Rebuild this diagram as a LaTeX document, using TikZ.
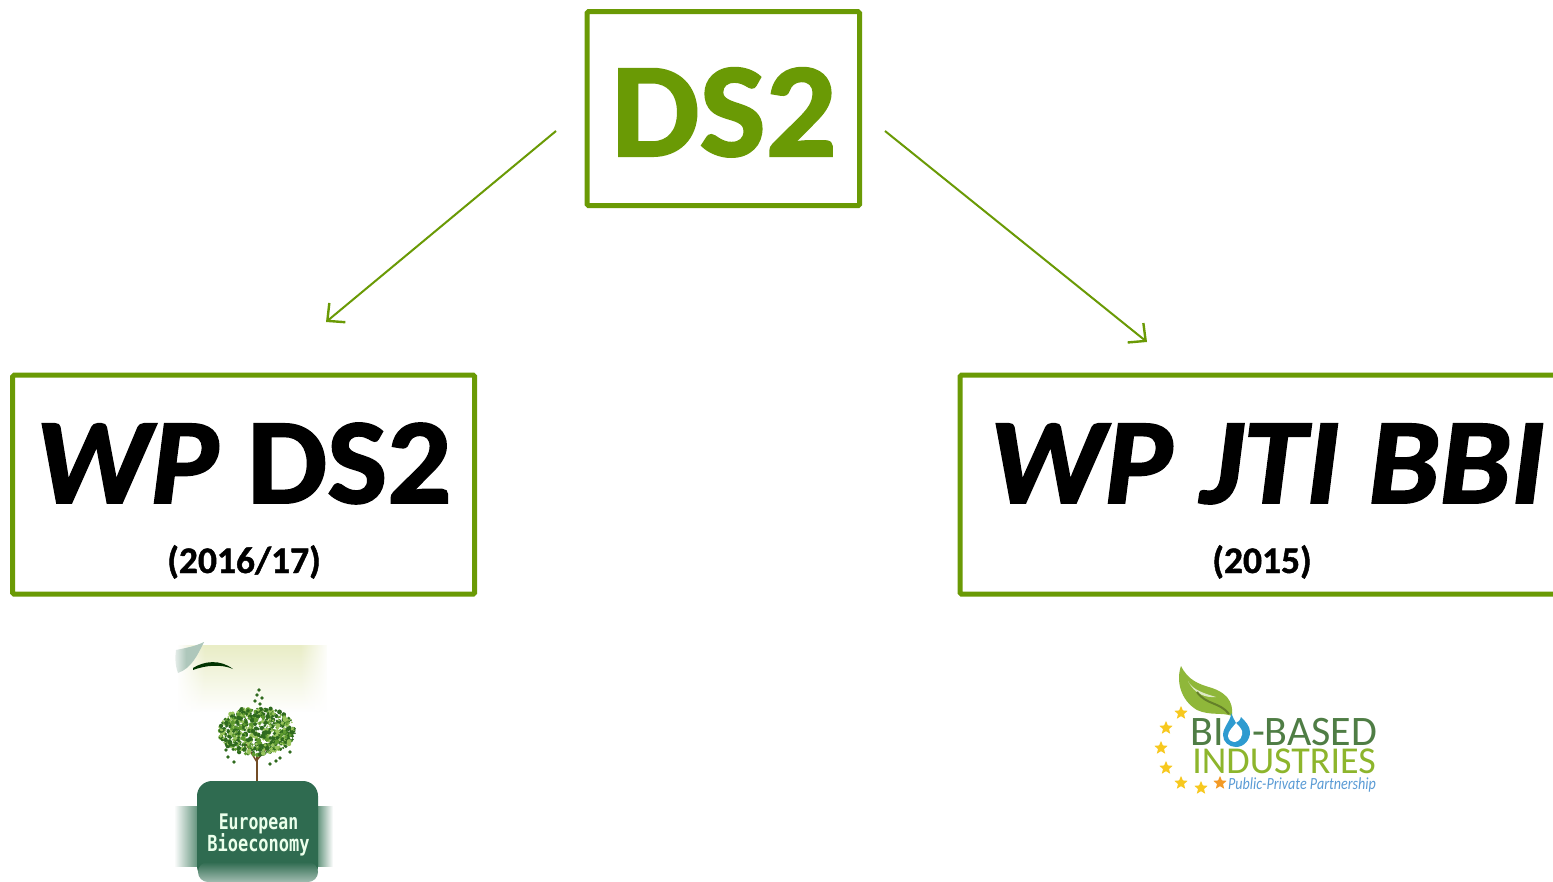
\documentclass[tikz,border=0pt]{standalone}
\usepackage{fontspec}
\setmainfont{Carlito}
\newfontfamily\logomono{DejaVu Sans Mono}
\usetikzlibrary{arrows.meta,shapes.geometric,fadings}
\definecolor{dsgreen}{HTML}{6A9A05}
\definecolor{logodark}{HTML}{2F6B50}
\definecolor{logoband}{HTML}{5E9078}
\definecolor{palebg}{HTML}{E9EDC6}
\definecolor{leafa}{HTML}{2F6A1E}
\definecolor{leafb}{HTML}{5E9A30}
\definecolor{leafc}{HTML}{98C45C}
\definecolor{biodark}{HTML}{4F7D45}
\definecolor{biolight}{HTML}{8DB52C}
\definecolor{bioleaf}{HTML}{8FB73A}
\definecolor{bioblue}{HTML}{2E9BD0}
\definecolor{biotext}{HTML}{5A9BD5}
\definecolor{biostar}{HTML}{F7C81E}
\definecolor{biostarb}{HTML}{F39A26}
\tikzset{
  x=1pt,y=-1pt,
  framebox/.style={draw=dsgreen,line width=5pt,rectangle,inner sep=0pt,rounded corners=1.5pt},
  arrowline/.style={draw=dsgreen,line width=2pt,-{Straight Barb[length=13pt,width=25pt,line width=2.4pt]}},
  title/.style={anchor=base,inner sep=0pt,font=\fontsize{127}{127}\selectfont\bfseries\addfontfeature{FakeBold=1.6}},
  yeartext/.style={anchor=base,inner sep=0pt,font=\fontsize{37.5}{37.5}\selectfont\bfseries\addfontfeature{FakeBold=1.2}},
  logostar/.style={star,star points=5,star point ratio=2.2,fill=#1,inner sep=0pt,minimum size=14pt},
}
\begin{document}
\begin{tikzpicture}
\useasboundingbox (0,0) rectangle (1553,882);
\clip (0,0) rectangle (1553,882);
\fill[white] (0,0) rectangle (1553,882);

% boxes
\node[framebox,minimum width=272.5pt,minimum height=194pt] (top) at (723.3,108.7) {};
\node[framebox,minimum width=462pt,minimum height=219pt] (left) at (243.7,484.7) {};
\node[framebox,minimum width=640pt,minimum height=219pt] (right) at (1280,484.7) {};

% texts
\node[anchor=base,inner sep=0pt,text=dsgreen,font=\fontsize{140}{140}\selectfont\bfseries\addfontfeature{FakeBold=1.6}] (toptext) at (724,156) {\scalebox{1}[0.96]{DS2}};
\node[title] (lefttext) at (243.5,503) {\scalebox{1}[0.96]{\textit{WP} DS2}};
\node[title] (righttext) at (1267,503) {\scalebox{1}[0.96]{\textit{WP JTI BBI}}};
\node[yeartext] (leftyear) at (244,573) {(2016/17)};
\node[yeartext] (rightyear) at (1262,573) {(2015)};

% connectors
\coordinate (la) at (556,131);
\coordinate (lb) at (326,322);
\coordinate (ra) at (885,131);
\coordinate (rb) at (1147,342);
\draw[arrowline] (la) -- (lb);
\draw[arrowline] (ra) -- (rb);

% European Bioeconomy logo
\fill[palebg,path fading=south] (178,645) rectangle (327,712);
\fill[white,path fading=east] (176,643) rectangle (205,714);
\fill[white,path fading=west] (300,643) rectangle (329,714);
\fill[logoband!50!white] (176,650) .. controls (186,648) and (196,646) .. (204,642)
  .. controls (198,654) and (192,668) .. (178,673) .. controls (175,665) and (175,657) .. (176,650) -- cycle;
\fill[white,path fading=east] (170,640) rectangle (186,678);
\fill[black!80!green] (193,668) .. controls (204,661) and (220,659) .. (233,669)
  .. controls (222,664) and (206,665) .. (193,670) -- cycle;
% tree
\draw[brown!60!black,line width=2.5pt] (257,782) -- (257,756);
\draw[brown!60!black,line width=1.5pt] (257,762) -- (246,744) (257,760) -- (270,744);
\pgfmathsetseed{42}
\foreach \i in {1,...,700}{
  \pgfmathsetmacro{\ang}{rnd*360}
  \pgfmathsetmacro{\rad}{rnd^0.45}
  \pgfmathsetmacro{\px}{257+38*\rad*cos(\ang)}
  \pgfmathsetmacro{\py}{731+24*\rad*sin(\ang)}
  \pgfmathsetmacro{\sz}{0.9+rnd*1.5}
  \pgfmathtruncatemacro{\pick}{int(rnd*4)}
  \ifcase\pick\relax
    \fill[leafa] (\px,\py) circle (\sz);
  \or
    \fill[leafa] (\px,\py) circle (\sz);
  \or
    \fill[leafb] (\px,\py) circle (\sz);
  \else
    \fill[leafc] (\px,\py) circle (\sz);
  \fi
}
\foreach \a/\b in {259/690,257/695,262/698,255/701,260/704,228/757,226/750,231/745,234/762,270/764,280/758,290/752,276/761}{
  \fill[leafa] (\a,\b) circle (1.8);
}
% sign
\shade[left color=white,right color=logoband] (174,806) rectangle (198,866);
\shade[left color=logoband,right color=white] (317,806) rectangle (333,866);
\node[fill=logodark,rounded corners=15pt,minimum width=121pt,minimum height=100pt,inner sep=0pt] (sign) at (257.5,831) {};
\shade[top color=logodark,bottom color=logodark!45!white,rounded corners=10pt] (198,862) rectangle (318,882);
\node[anchor=base,inner sep=0pt,text=white!92!green,font=\logomono\bfseries\fontsize{16.5}{16.5}\selectfont] (eb1) at (258.5,829) {\scalebox{1}[1.3]{European}};
\node[anchor=base,inner sep=0pt,text=white!92!green,font=\logomono\bfseries\fontsize{17}{17}\selectfont] (eb2) at (258.5,851) {\scalebox{1}[1.3]{Bioeconomy}};

% Bio-based logo
\fill[bioleaf] (1181,666) .. controls (1176,680) and (1180,700) .. (1197,710)
  .. controls (1210,716) and (1222,712) .. (1232,716)
  .. controls (1234,700) and (1224,692) .. (1212,688)
  .. controls (1198,684) and (1188,680) .. (1181,666) -- cycle;
\fill[white!70!bioleaf] (1188,681) .. controls (1192,690) and (1206,694) .. (1216,697)
  .. controls (1206,698) and (1194,694) .. (1188,681) -- cycle;
\draw[bioleaf!70!black,line width=2pt] (1197,692) .. controls (1206,705) and (1220,702) .. (1229,714);
\node[logostar=biostar] (s1) at (1181,713) {};
\node[logostar=biostar] (s2) at (1166,728) {};
\node[logostar=biostar] (s3) at (1161,748) {};
\node[logostar=biostar] (s4) at (1166,768) {};
\node[logostar=biostar] (s5) at (1181,783) {};
\node[logostar=biostar] (s6) at (1201,788) {};
\node[logostar=biostarb] (s7) at (1220,783) {};
\node[anchor=base,inner sep=0pt,text=biodark,font=\fontsize{42}{42}\selectfont] (bio) at (1284,745) {BI\textcolor{white}{O}-BASED};
\fill[bioblue] (1231,713) .. controls (1232,719) and (1223,727) .. (1223,735)
  .. controls (1223,742) and (1229,747) .. (1236,747)
  .. controls (1244,747) and (1250,740) .. (1250,732)
  .. controls (1250,726) and (1245,721) .. (1241,717)
  .. controls (1240,721) and (1238,722) .. (1236,723)
  .. controls (1234,720) and (1233,717) .. (1231,713) -- cycle;
\fill[white] (1236,723) .. controls (1233,727) and (1228,731) .. (1228,736)
  .. controls (1228,740) and (1232,742) .. (1235,742)
  .. controls (1240,741) and (1243,736) .. (1242,731)
  .. controls (1241,728) and (1238,725) .. (1236,723) -- cycle;
\node[anchor=base,inner sep=0pt,text=biolight,font=\fontsize{38}{38}\selectfont] (ind) at (1284,773) {INDUSTRIES};
\node[anchor=base,inner sep=0pt,text=biotext,font=\fontsize{17}{17}\selectfont\itshape] (ppp) at (1302,789) {\scalebox{0.83}[1]{Public-Private Partnership}};
\end{tikzpicture}
\end{document}
